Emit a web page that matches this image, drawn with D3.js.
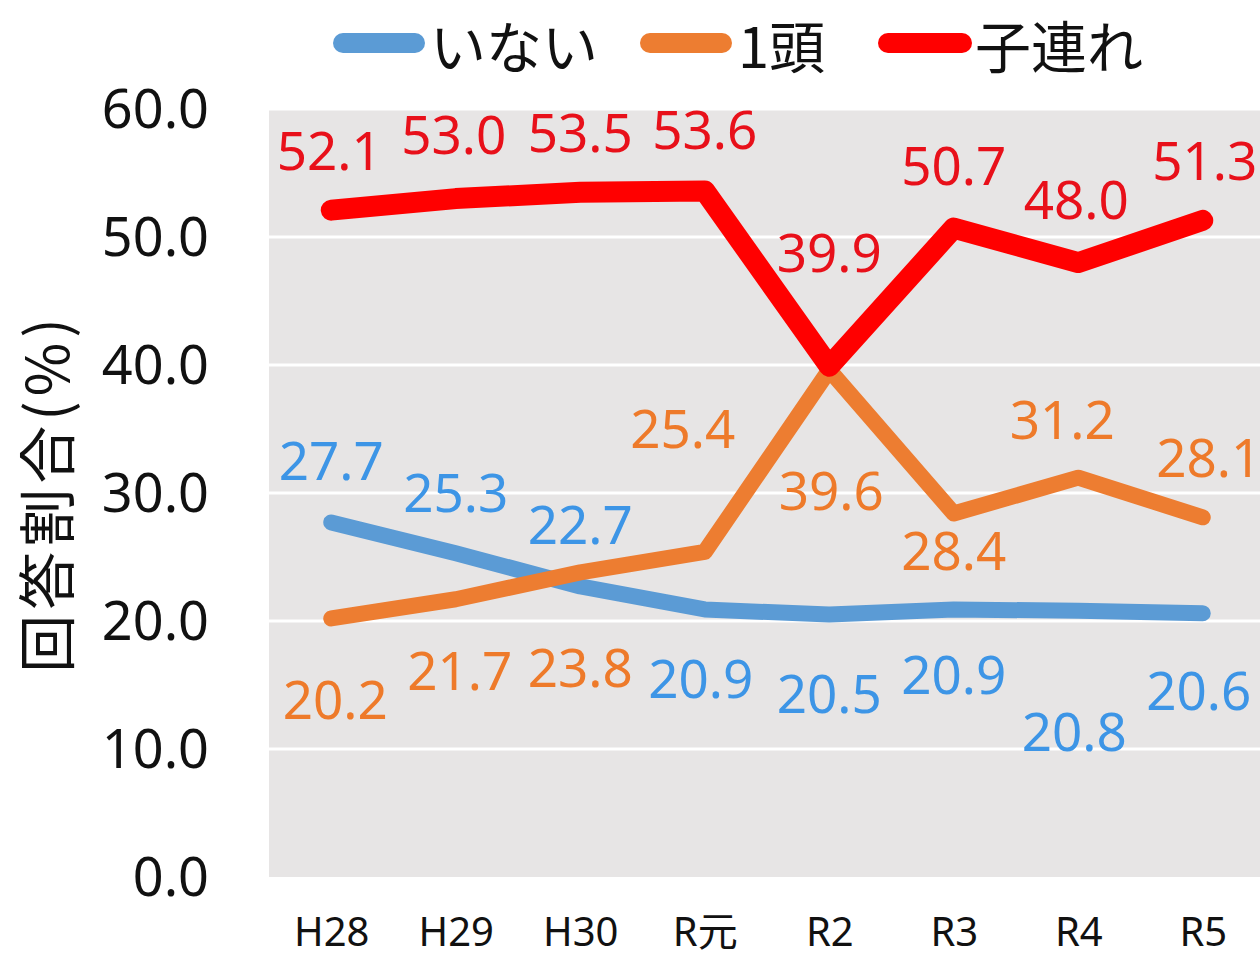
<!DOCTYPE html>
<html><head><meta charset="utf-8">
<script src="https://cdn.jsdelivr.net/npm/d3@7"></script>
<style>
html,body{margin:0;padding:0;background:#fff;}
svg{display:block;font-family:"Noto Sans","Noto Sans CJK JP",sans-serif;}
</style></head>
<body>
<svg id="chart" width="1260" height="958"></svg>
<script>
const categories = ["H28","H29","H30","R元","R2","R3","R4","R5"];
const seriesNames = ["いない","1頭","子連れ"];
const noneValues = [27.7,25.3,22.7,20.9,20.5,20.9,20.8,20.6];
const oneValues = [20.2,21.7,23.8,25.4,39.6,28.4,31.2,28.1];
const cubValues = [52.1,53.0,53.5,53.6,39.9,50.7,48.0,51.3];
const yTicks = [0,10,20,30,40,50,60];

// label placement offsets (style, not data)
const noneOffsets = [[0,-63],[0,-62],[0,-63],[-4,68],[0,78],[0,64],[-4,120],[-4,76]];
const oneOffsets = [[4,80],[4,70],[0,94],[-22,-124],[2,119],[0,36],[-16,-59],[6,-61]];
const cubOffsets = [[-2,-61],[-2,-65],[0,-61],[0,-62],[0,-115],[0,-64],[-2,-64],[2,-61]];

const svg = d3.select("#chart");
const plot = {left:269, right:1265, top:109, bottom:877};

const x = d3.scalePoint().domain(categories).range([plot.left, plot.right]).padding(0.5);
const y = d3.scaleLinear().domain([0,60]).range([plot.bottom, plot.top]);

svg.append("rect").attr("x",plot.left).attr("y",plot.top)
  .attr("width",plot.right-plot.left).attr("height",plot.bottom-plot.top)
  .attr("fill","#e7e5e5");

svg.append("g").selectAll("line").data(yTicks.filter(d=>d>0)).join("line")
  .attr("x1",plot.left).attr("x2",plot.right)
  .attr("y1",d=>y(d)).attr("y2",d=>y(d))
  .attr("stroke","#ffffff").attr("stroke-width",3);

// y axis
const yAxis = d3.axisLeft(y).tickValues(yTicks).tickFormat(d3.format(".1f")).tickSize(0).tickPadding(0);
const gy = svg.append("g").attr("transform",`translate(209,0)`).call(yAxis);
gy.select(".domain").remove();
gy.selectAll("text").attr("font-size",54).attr("fill","#111").attr("dy","0.35em")
  .attr("font-family",'"Noto Sans",sans-serif');

// x axis
const xAxis = d3.axisBottom(x).tickSize(0).tickPadding(0);
const gx = svg.append("g").attr("transform",`translate(0,${plot.bottom})`).call(xAxis);
gx.select(".domain").remove();
gx.selectAll("text").attr("font-size",40).attr("fill","#111").attr("y",55).attr("dy","0.35em")
  .attr("font-family",'"Noto Sans","Noto Sans CJK JP",sans-serif');

// y title
svg.append("text").attr("transform","translate(44,493) rotate(-90)")
  .attr("text-anchor","middle").attr("dominant-baseline","central")
  .attr("font-size",58).attr("letter-spacing",5).attr("fill","#111")
  .attr("font-family",'"Noto Sans CJK JP",sans-serif')
  .text("回答割合(%)");

const series = [
  {name:seriesNames[0], values:noneValues, color:"#5b9bd5", label:"#3d95e6", width:16, offsets:noneOffsets},
  {name:seriesNames[1], values:oneValues, color:"#ed7d31", label:"#ee7a2a", width:16, offsets:oneOffsets},
  {name:seriesNames[2], values:cubValues, color:"#ff0000", label:"#e8101a", width:21, offsets:cubOffsets}
];

const line = d3.line().x((d,i)=>x(categories[i])).y(d=>y(d));

series.forEach(s=>{
  svg.append("path").datum(s.values).attr("d",line)
    .attr("fill","none").attr("stroke",s.color).attr("stroke-width",s.width)
    .attr("stroke-linecap","round").attr("stroke-linejoin","round");
});

series.forEach(s=>{
  svg.append("g").selectAll("text").data(s.values).join("text")
    .attr("x",(d,i)=>x(categories[i])+s.offsets[i][0])
    .attr("y",(d,i)=>y(d)+s.offsets[i][1])
    .attr("text-anchor","middle").attr("dominant-baseline","central")
    .attr("font-size",53).attr("fill",s.label)
    .attr("font-family",'"Noto Sans",sans-serif')
    .text(d=>d3.format(".1f")(d));
});

// legend
const legendItems = [
  {x1:343,x2:415,tx:430},
  {x1:650,x2:722,tx:738},
  {x1:888,x2:962,tx:975}
];
const lg = svg.append("g");
series.forEach((s,i)=>{
  const it = legendItems[i];
  lg.append("line").attr("x1",it.x1).attr("x2",it.x2).attr("y1",43).attr("y2",43)
    .attr("stroke",s.color).attr("stroke-width",20).attr("stroke-linecap","round");
  lg.append("text").attr("x",it.tx).attr("y",43).attr("dominant-baseline","central")
    .attr("font-size",56).attr("fill","#111")
    .attr("font-family",'"Noto Sans CJK JP",sans-serif')
    .text(s.name);
});
</script>
</body></html>
